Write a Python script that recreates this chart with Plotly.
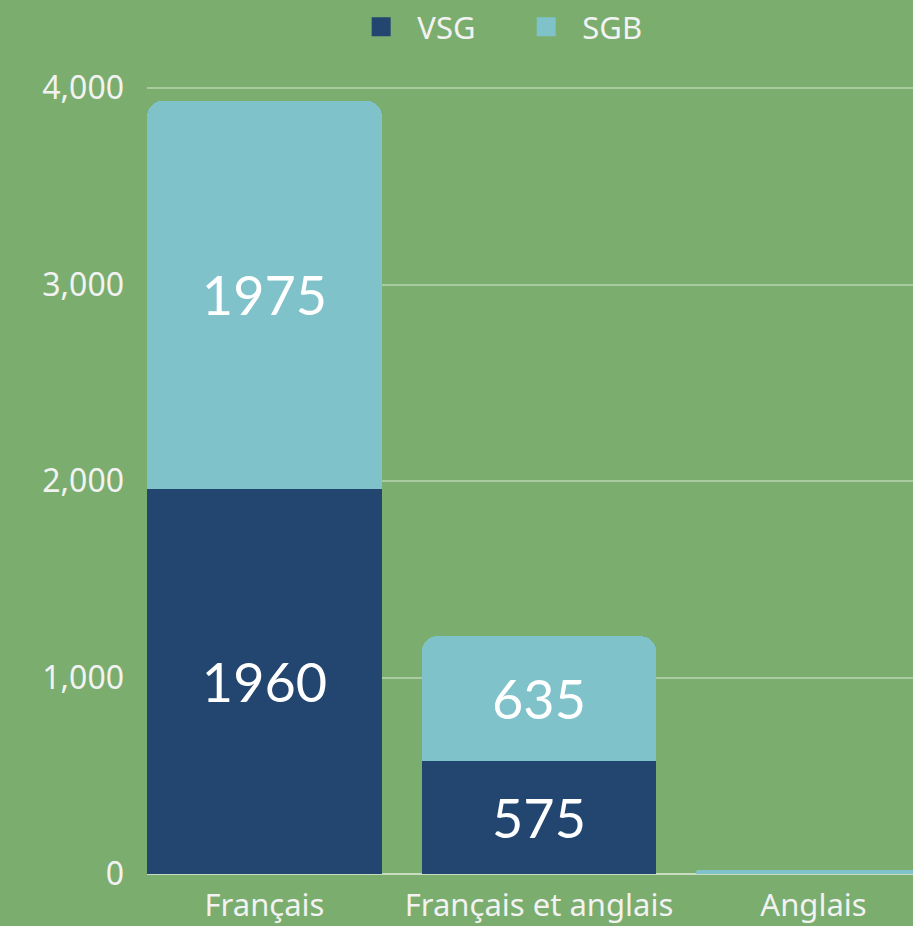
import plotly.graph_objects as go

categories = ["Français", "Français et anglais", "Anglais"]
series_names = ["VSG", "SGB"]
vsg = [1960, 575, 0]
sgb = [1975, 635, 20]
y_ticks = [0, 1000, 2000, 3000, 4000]
y_tick_labels = ["0", "1,000", "2,000", "3,000", "4,000"]

xpos = list(range(len(categories)))
bw = 0.856
dark = "#22466f"
light = "#80c2ca"
bg = "#7aad6e"
txt = "#f2f2f2"

def labels(vals):
    return [str(v) if v > 150 else "" for v in vals]

fig = go.Figure()
for nm, vals, col in ((series_names[0], vsg, dark), (series_names[1], sgb, light)):
    fig.add_trace(go.Bar(
        x=xpos, y=vals, name=nm, width=bw, showlegend=False,
        marker=dict(color=col, line=dict(width=0)),
        text=labels(vals), textposition="inside", insidetextanchor="middle",
        textfont=dict(family="Lato", size=54, color="#ffffff"),
        hoverinfo="skip",
    ))
for nm, col in ((series_names[0], dark), (series_names[1], light)):
    fig.add_trace(go.Scatter(
        x=[None], y=[None], mode="markers", name="\u00a0\u00a0" + nm,
        marker=dict(symbol="square", size=16, color=col, line=dict(width=3, color=col)),
        showlegend=True, hoverinfo="skip",
    ))

px_per_unit = 274.5
plot_w = 913 - 147
left = -bw / 2
right = left + plot_w / px_per_unit
ymax = 4000 + 6 / 0.1965

fig.update_layout(
    width=913, height=926,
    barmode="stack",
    barcornerradius=16,
    paper_bgcolor=bg,
    plot_bgcolor=bg,
    margin=dict(l=147, r=0, t=82, b=52, autoexpand=False),
    font=dict(family="Noto Sans, sans-serif", color=txt, size=31),
    legend=dict(
        orientation="h", x=0.495, xanchor="center", y=1.0, yref="container", yanchor="top",
        font=dict(size=31, color=txt), bgcolor="rgba(0,0,0,0)",
        itemsizing="trace", itemwidth=30, traceorder="normal",
        entrywidth=120, entrywidthmode="pixels",
    ),
    xaxis=dict(
        range=[left, right], tickmode="array", tickvals=xpos, ticktext=categories,
        showgrid=False, zeroline=False, showline=False, ticks="",
        tickfont=dict(size=31, color=txt), ticklabelstandoff=10,
    ),
    yaxis=dict(
        range=[0, ymax], tickmode="array", tickvals=y_ticks, ticktext=y_tick_labels,
        showgrid=True, gridcolor="#a9cb9f", gridwidth=2, zeroline=True,
        zerolinecolor="#c8dcc0", zerolinewidth=2, showline=False, ticks="",
        tickfont=dict(size=32, color=txt), ticklabelstandoff=22,
    ),
    showlegend=True,
)

fig.write_html(
    "out.html",
    config={"displayModeBar": False},
    post_script="document.body.style.margin='0';document.body.style.background='%s';" % bg,
)
